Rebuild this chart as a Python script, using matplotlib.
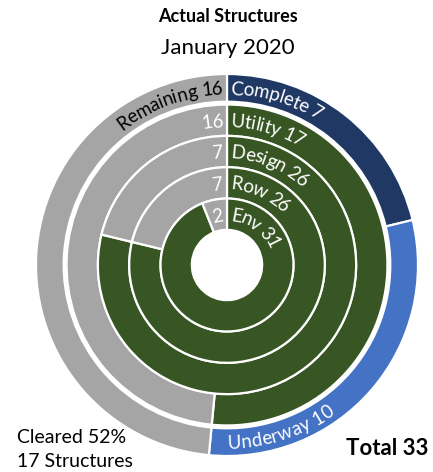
import numpy as np
import matplotlib
matplotlib.use('Agg')
import matplotlib.pyplot as plt
from matplotlib.font_manager import FontProperties

title = 'Actual Structures'
subtitle = 'January 2020'

status_names = ['Complete', 'Underway', 'Remaining']
status_counts = [7, 10, 16]

ring_names = ['Utility', 'Design', 'Row', 'Env']
ring_done = [17, 26, 26, 31]
ring_left = [16, 7, 7, 2]

total = 33
cleared_pct = 52
cleared_count = 17

NAVY = '#1F3864'
BLUE = '#4472C4'
GREEN = '#375623'
GRAY = '#A5A5A5'
FONT = 'Lato'

W, H = 433, 472
CX, CY, R = 227, 265, 191


def arc_text(ax, text, r, angle, size, color, clockwise=True, align='start', weight='normal'):
    """Draw text char by char along a circle of radius r (data units)."""
    renderer = ax.figure.canvas.get_renderer()
    prop = FontProperties(family=FONT, size=size, weight=weight)
    px_per_unit = ax.transData.transform((1, 0))[0] - ax.transData.transform((0, 0))[0]

    def width(s):
        w, _, _ = renderer.get_text_width_height_descent(s, prop, ismath=False)
        return w

    r_px = r * px_per_unit
    cap = size * 100 / 72 * 0.72 / px_per_unit
    sign = -1 if clockwise else 1
    start = angle
    if align == 'end':
        start = angle - sign * np.degrees(width(text) / r_px)

    for i, ch in enumerate(text):
        if ch == ' ':
            continue
        d = width(text[:i + 1]) - width(ch) / 2
        theta = start + sign * np.degrees(d / r_px)
        if clockwise:
            rot, rb = theta - 90, r - cap / 2
        else:
            rot, rb = theta + 90, r + cap / 2
        t = np.radians(theta)
        ax.text(rb * np.cos(t), rb * np.sin(t), ch, fontproperties=prop, color=color,
                rotation=rot, rotation_mode='anchor', ha='center', va='baseline')


fig = plt.figure(figsize=(W / 100, H / 100), dpi=100)
ax = fig.add_axes([(CX - R) / W, (H - CY - R) / H, 2 * R / W, 2 * R / H])

wedge_style = {'edgecolor': 'white', 'linewidth': 1.6}

# outer status ring
outer_w = 0.145
ax.pie(status_counts, radius=1.0, colors=[NAVY, BLUE, GRAY], startangle=90, counterclock=False,
       wedgeprops={'width': outer_w, **wedge_style})

# inner progress rings
ring_w = 0.164
ring_top = 0.84
for k, (done, left) in enumerate(zip(ring_done, ring_left)):
    ax.pie([done, left], radius=ring_top - k * ring_w, colors=[GREEN, GRAY], startangle=90,
           counterclock=False, wedgeprops={'width': ring_w, **wedge_style})

ax.set_xlim(-1, 1)
ax.set_ylim(-1, 1)
ax.axis('off')

fs = 13.5
gap = 4 / R  # small offset from the top split, as arc length in data units

outer_mid = 1.0 - outer_w / 2
arc_text(ax, f'{status_names[0]} {status_counts[0]}', outer_mid, 90 - np.degrees(gap / outer_mid), fs, 'white')
arc_text(ax, f'{status_names[2]} {status_counts[2]}', outer_mid, 90 + np.degrees(gap / outer_mid), fs, 'black',
         align='end')
arc_text(ax, f'{status_names[1]} {status_counts[1]}', outer_mid, -90, fs, 'white', clockwise=False)

for k, (name, done, left) in enumerate(zip(ring_names, ring_done, ring_left)):
    mid = ring_top - k * ring_w - ring_w / 2
    arc_text(ax, f'{name} {done}', mid, 90 - np.degrees(gap / mid), fs, 'white')
    arc_text(ax, f'{left}', mid, 90 + np.degrees(gap / mid), fs, 'white', align='end')

fig.text(228 / W, 1 - 16 / H, title, family=FONT, size=13, weight='bold', ha='center', va='center')
fig.text(228 / W, 1 - 48 / H, subtitle, family=FONT, size=16, ha='center', va='center')
fig.text(17 / W, 1 - 443 / H, f'Cleared {cleared_pct}%', family=FONT, size=14, ha='left', va='baseline')
fig.text(17 / W, 1 - 467 / H, f'{cleared_count} Structures', family=FONT, size=14, ha='left', va='baseline')
fig.text(428 / W, 1 - 455 / H, f'Total {total}', family=FONT, size=16, weight='bold', ha='right', va='baseline')

fig.savefig('out.png', dpi=100)
